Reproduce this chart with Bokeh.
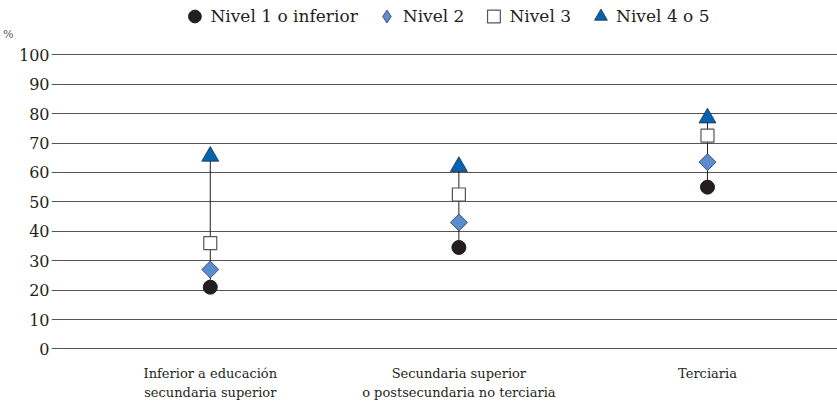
import math
from bokeh.plotting import figure
from bokeh.models import (Range1d, FixedTicker, Legend, LegendItem, LinearAxis, ColumnDataSource)
from bokeh.embed import file_html
from bokeh.resources import INLINE

categories = ["Inferior a educación\nsecundaria superior",
              "Secundaria superior\no postsecundaria no terciaria",
              "Terciaria"]
nivel1 = [21, 34.5, 55]
nivel2 = [27, 43, 63.5]
nivel3 = [36, 52.5, 72.5]
nivel45 = [65.5, 62, 78.5]
series_names = ["Nivel 1 o inferior", "Nivel 2", "Nivel 3", "Nivel 4 o 5"]
y_ticks = list(range(0, 101, 10))
unit_tick = 107
unit_label = "%"

xs = list(range(1, len(categories) + 1))
lows = [min(a, b, c, d) for a, b, c, d in zip(nivel1, nivel2, nivel3, nivel45)]
highs = [max(a, b, c, d) for a, b, c, d in zip(nivel1, nivel2, nivel3, nivel45)]

FONT = "DejaVu Serif"
TXT = "#231F20"

p = figure(width=837, height=403, output_backend="svg", toolbar_location=None,
           x_range=Range1d(0.3613, 3.523), y_range=Range1d(-0.17, 118.43),
           min_border_left=45, min_border_right=0, min_border_top=0, min_border_bottom=49)
p.outline_line_color = None
p.background_fill_color = "white"

p.yaxis.ticker = FixedTicker(ticks=y_ticks)
p.yaxis.axis_line_color = None
p.yaxis.major_tick_line_color = None
p.yaxis.major_tick_out = 0
p.yaxis.major_tick_in = 0
p.yaxis.minor_tick_line_color = None
p.yaxis.major_label_text_font = FONT
p.yaxis.major_label_text_font_size = "16px"
p.yaxis.major_label_text_color = TXT
p.yaxis.major_label_standoff = 2

unit_axis = LinearAxis(ticker=FixedTicker(ticks=[unit_tick]),
                       major_label_overrides={unit_tick: unit_label},
                       axis_line_color=None, major_tick_line_color=None,
                       minor_tick_line_color=None, major_tick_out=0, major_tick_in=0,
                       major_label_text_font=FONT, major_label_text_font_size="11px",
                       major_label_text_color="#555555", major_label_standoff=2)
p.add_layout(unit_axis, "left")

p.xaxis.ticker = FixedTicker(ticks=xs)
p.xaxis.major_label_overrides = {x: c for x, c in zip(xs, categories)}
p.xaxis.axis_line_color = None
p.xaxis.major_tick_line_color = None
p.xaxis.minor_tick_line_color = None
p.xaxis.major_label_text_font = FONT
p.xaxis.major_label_text_font_size = "13px"
p.xaxis.major_label_text_color = TXT
p.xaxis.major_label_standoff = 10
p.xaxis.major_label_text_line_height = 1.3

p.xgrid.grid_line_color = None
p.ygrid.ticker = FixedTicker(ticks=y_ticks)
p.ygrid.grid_line_color = "#555555"
p.ygrid.grid_line_width = 1

src = ColumnDataSource(dict(x=xs, n1=nivel1, n2=nivel2, n3=nivel3, n45=nivel45, lo=lows, hi=highs))

p.segment(x0="x", x1="x", y0="lo", y1="hi", source=src, line_color="#231F20", line_width=1)
r1 = p.scatter("x", "n1", source=src, marker="circle", size=14,
               fill_color="#231F20", line_color="#231F20")
r2 = p.scatter("x", "n2", source=src, marker="square", size=12, angle=math.pi / 4,
               fill_color="#5B8CCF", line_color="#2b3a55", line_width=0.8)
r3 = p.scatter("x", "n3", source=src, marker="square", size=13,
               fill_color="white", line_color="#555555", line_width=1.2)
r4 = p.scatter("x", "n45", source=src, marker="triangle", size=17,
               fill_color="#0463B0", line_color="#1c2f4a", line_width=0.8)

# hidden diamond renderer of the same series, used only for the legend symbol
r2_key = p.scatter("x", "n2", source=src, marker="diamond", size=12, visible=False,
                   fill_color="#5B8CCF", line_color="#2b3a55", line_width=0.8)

legend = Legend(items=[LegendItem(label=n, renderers=[r]) for n, r in zip(series_names, [r1, r2_key, r3, r4])],
                orientation="horizontal", location="top_center",
                label_text_font=FONT, label_text_font_size="17px", label_text_color=TXT,
                glyph_width=32, glyph_height=32, label_standoff=0, spacing=13,
                padding=0, margin=0, border_line_color=None, background_fill_alpha=0)
p.add_layout(legend)

open("out.html", "w").write(file_html(p, INLINE))
